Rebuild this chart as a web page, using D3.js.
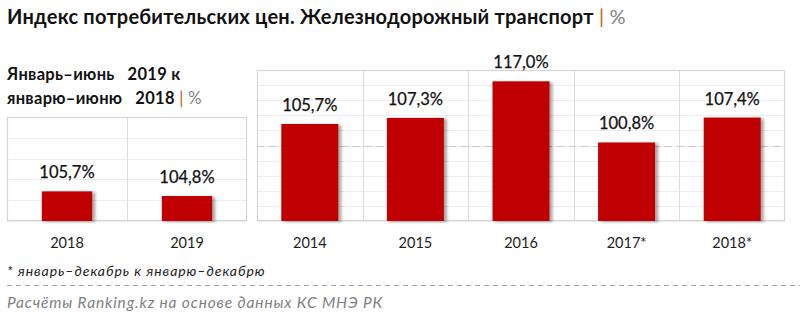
<!DOCTYPE html>
<html>
<head>
<meta charset="utf-8">
<script src="https://cdn.jsdelivr.net/npm/d3@7"></script>
<style>
  html, body { margin: 0; padding: 0; background: #fff; }
  svg { display: block; font-family: Lato, "Open Sans", sans-serif; }
</style>
</head>
<body>
<svg id="chart" width="800" height="324"></svg>
<script>
// Half-year comparison (January–June)
const halfYears = ["2018", "2019"];
const halfValues = [105.7, 104.8];
const halfTicks = [100, 104, 108, 112, 116, 120];

// Annual index
const years = ["2014", "2015", "2016", "2017*", "2018*"];
const yearValues = [105.7, 107.3, 117.0, 100.8, 107.4];
const yearTicks = [80, 84, 88, 92, 96, 100, 104, 108, 112, 116, 120];

const fmt = v => v.toFixed(1).replace(".", ",") + "%";

const svg = d3.select("#chart");

const defs = svg.append("defs");
defs.append("filter")
  .attr("id", "barShadow")
  .attr("x", "-20%").attr("y", "-20%").attr("width", "150%").attr("height", "140%")
  .append("feDropShadow")
  .attr("dx", 3).attr("dy", 1).attr("stdDeviation", 1.6)
  .attr("flood-color", "#000").attr("flood-opacity", 0.35);

// Title
const title = svg.append("text")
  .attr("x", 7).attr("y", 24)
  .attr("font-size", 20).attr("font-weight", 700).attr("fill", "#111")
  .attr("letter-spacing", 0.22);
title.append("tspan").text("Индекс потребительских цен. Железнодорожный транспорт");
title.append("tspan").attr("font-weight", 400).attr("fill", "#c55a11").text(" | ");
title.append("tspan").attr("font-weight", 400).attr("fill", "#7f7f7f").text("%");

// Subtitle for the left panel
svg.append("text")
  .attr("x", 7).attr("y", 80)
  .attr("font-size", 16.5).attr("font-weight", 700).attr("fill", "#111")
  .attr("letter-spacing", 0.3)
  .attr("xml:space", "preserve")
  .text("Январь–июнь   2019 к");
const sub2 = svg.append("text")
  .attr("x", 7).attr("y", 104)
  .attr("font-size", 16.5).attr("font-weight", 700).attr("fill", "#111")
  .attr("letter-spacing", 0.3)
  .attr("xml:space", "preserve");
sub2.append("tspan").text("январю–июню   2018");
sub2.append("tspan").attr("font-weight", 400).attr("fill", "#c55a11").text(" | ");
sub2.append("tspan").attr("font-weight", 400).attr("fill", "#7f7f7f").text("%");

function panel(cfg) {
  const g = svg.append("g");
  const x = d3.scaleBand().domain(cfg.cats).range([cfg.x0, cfg.x1]).padding(0);
  const y = d3.scaleLinear().domain(cfg.domain).range([cfg.y1, cfg.y0]);

  // horizontal gridlines
  g.selectAll("line.grid").data(cfg.ticks).join("line")
    .attr("class", "grid")
    .attr("x1", cfg.x0).attr("x2", cfg.x1)
    .attr("y1", d => Math.round(y(d)) + 0.5).attr("y2", d => Math.round(y(d)) + 0.5)
    .attr("stroke", "#ececec").attr("stroke-width", 1);

  // reference line at 100%
  if (cfg.refLine !== undefined) {
    g.append("line")
      .attr("x1", cfg.x0).attr("x2", cfg.x1)
      .attr("y1", Math.round(y(cfg.refLine)) + 0.5).attr("y2", Math.round(y(cfg.refLine)) + 0.5)
      .attr("stroke", "#c8c8c8").attr("stroke-width", 1.2).attr("stroke-dasharray", "7,5");
  }

  // category separators
  g.selectAll("line.sep").data(cfg.cats.slice(1)).join("line")
    .attr("class", "sep")
    .attr("x1", d => Math.round(x(d)) + 0.5).attr("x2", d => Math.round(x(d)) + 0.5)
    .attr("y1", cfg.y0).attr("y2", cfg.y1)
    .attr("stroke", "#dcdcdc").attr("stroke-width", 1);

  // frame
  g.append("rect")
    .attr("x", cfg.x0 + 0.5).attr("y", cfg.y0 + 0.5)
    .attr("width", cfg.x1 - cfg.x0 - 1).attr("height", cfg.y1 - cfg.y0 - 1)
    .attr("fill", "none").attr("stroke", "#d6d6d6").attr("stroke-width", 1.2);

  const bw = x.bandwidth() * cfg.barRatio;
  const data = cfg.cats.map((c, i) => ({ c, v: cfg.values[i] }));

  g.selectAll("rect.bar").data(data).join("rect")
    .attr("class", "bar")
    .attr("x", d => x(d.c) + (x.bandwidth() - bw) / 2)
    .attr("width", bw)
    .attr("y", d => y(d.v))
    .attr("height", d => y(cfg.domain[0]) - y(d.v))
    .attr("fill", "#c00000")
    .attr("filter", "url(#barShadow)");

  g.selectAll("text.val").data(data).join("text")
    .attr("class", "val")
    .attr("x", d => x(d.c) + x.bandwidth() / 2)
    .attr("y", d => y(d.v) - 13)
    .attr("text-anchor", "middle")
    .attr("font-size", 16.5).attr("fill", "#111")
    .attr("stroke", "#111").attr("stroke-width", 0.25)
    .text(d => fmt(d.v));

  // category axis
  const axis = g.append("g")
    .attr("transform", `translate(0,${cfg.y1})`)
    .call(d3.axisBottom(x).tickSize(0).tickPadding(17));
  axis.select(".domain").remove();
  axis.selectAll("text")
    .attr("font-family", "Lato, sans-serif")
    .attr("font-size", 14.5).attr("fill", "#222");
}

panel({
  cats: halfYears, values: halfValues, ticks: halfTicks,
  domain: [100, 120], x0: 7, x1: 247, y0: 117, y1: 221, barRatio: 0.42
});

panel({
  cats: years, values: yearValues, ticks: yearTicks, refLine: 100,
  domain: [80, 120], x0: 257, x1: 785, y0: 70, y1: 221, barRatio: 0.54
});

// Footnote and source
svg.append("text")
  .attr("x", 7).attr("y", 276)
  .attr("font-size", 14).attr("font-style", "italic").attr("fill", "#222")
  .attr("letter-spacing", 0.95)
  .text("* январь–декабрь к январю–декабрю");

svg.append("line")
  .attr("x1", 7).attr("x2", 800).attr("y1", 285.5).attr("y2", 285.5)
  .attr("stroke", "#a6a6a6").attr("stroke-width", 1).attr("stroke-dasharray", "5,4");

svg.append("text")
  .attr("x", 7).attr("y", 308)
  .attr("font-size", 15.5).attr("font-style", "italic").attr("fill", "#7f7f7f")
  .attr("letter-spacing", 0.85)
  .text("Расчёты Ranking.kz на основе данных КС МНЭ РК");
</script>
</body>
</html>
